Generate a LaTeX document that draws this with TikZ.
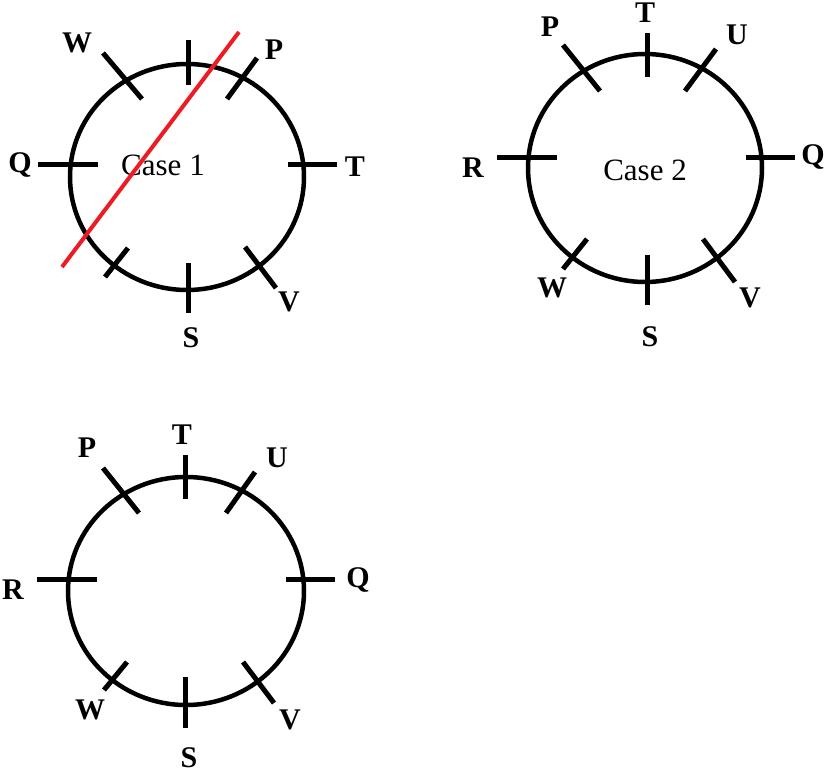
\documentclass[tikz,border=0pt]{standalone}
\usepackage{fontspec}
\setmainfont{Liberation Serif}
\usepackage{tikz}
\usepackage{xcolor}
\definecolor{cutred}{RGB}{237,28,36}

\begin{document}
\begin{tikzpicture}[
    x=1pt, y=-1pt,
    every node/.style={font=\fontsize{31}{36}\selectfont},
    ring/.style={line width=4.5pt, black},
    seat/.style={line width=5pt, black},
    lab/.style={font=\fontsize{30}{35}\selectfont\bfseries, inner sep=0pt},
    casetext/.style={font=\fontsize{31}{36}\selectfont, inner sep=0pt},
  ]
  \useasboundingbox (0,0) rectangle (828,779);

  % Centres of the three tables
  \coordinate (c1) at (187,177);
  \coordinate (c2) at (645,168);
  \coordinate (c3) at (186,591);

  % --- Case 1 (top left) ---
  \draw[ring] (c1) ellipse [x radius=117pt, y radius=113pt];
  \foreach \a/\b in {{188,40}/{188,85}, {188,263}/{188,313},
                     {38,164}/{98,164}, {288,164}/{337,164},
                     {103,53}/{142,99}, {257,58}/{227,99},
                     {245,247}/{276,288}, {128,248}/{105,277}}
    \draw[seat] (\a) -- (\b);
  \node[lab] (w1) at (77,43) {W};
  \node[lab] (p1) at (274,50) {P};
  \node[lab] (q1) at (20,165) {Q};
  \node[lab] (t1) at (355,167) {T};
  \node[lab] (v1) at (289,302) {V};
  \node[lab] (s1) at (191,338) {S};
  \node[casetext] (case1) at (163,165) {Case 1};
  % crossed out
  \coordinate (cut top) at (239,32);
  \coordinate (cut bot) at (62,267);
  \draw[line width=4pt, cutred] (cut top) -- (cut bot);

  % --- Case 2 (top right) ---
  \draw[ring] (c2) ellipse [x radius=117pt, y radius=114pt];
  \foreach \a/\b in {{647,33}/{647,77}, {647,255}/{647,305},
                     {497,157}/{557,157}, {746,157}/{795,157},
                     {563,45}/{600,91}, {716,49}/{685,91},
                     {587,239}/{563,269}, {703,239}/{735,282}}
    \draw[seat] (\a) -- (\b);
  \node[lab] (t2) at (645,13) {T};
  \node[lab] (p2) at (550,27) {P};
  \node[lab] (u2) at (737,35) {U};
  \node[lab] (r2) at (473,168) {R};
  \node[lab] (q2) at (813,157) {Q};
  \node[lab] (w2) at (552,288) {W};
  \node[lab] (v2) at (750,298) {V};
  \node[lab] (s2) at (650,337) {S};
  \node[casetext] (case2) at (645,170) {Case 2};

  % --- Final arrangement (bottom left) ---
  \draw[ring] (c3) ellipse [x radius=118pt, y radius=114pt];
  \foreach \a/\b in {{185,455}/{185,499}, {185,677}/{185,728},
                     {37,579}/{97,579}, {286,579}/{335,579},
                     {103,468}/{139,513}, {255,472}/{226,513},
                     {127,662}/{104,690}, {243,662}/{274,703}}
    \draw[seat] (\a) -- (\b);
  \node[lab] (t3) at (182,435) {T};
  \node[lab] (p3) at (87,448) {P};
  \node[lab] (u3) at (277,458) {U};
  \node[lab] (r3) at (13,590) {R};
  \node[lab] (q3) at (358,580) {Q};
  \node[lab] (w3) at (90,710) {W};
  \node[lab] (v3) at (290,720) {V};
  \node[lab] (s3) at (189,758) {S};

\end{tikzpicture}
\end{document}
